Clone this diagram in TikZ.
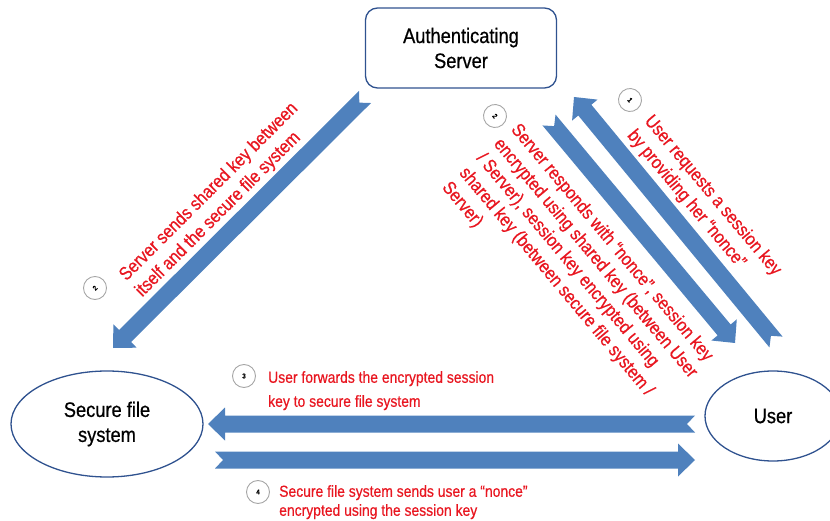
\documentclass[tikz,border=0pt]{standalone}
\usepackage{fontspec}
\setmainfont{Liberation Sans}[FakeStretch=0.87,FakeBold=0.6]
\usetikzlibrary{shapes,positioning,calc}
\definecolor{arrowblue}{RGB}{79,129,189}
\definecolor{edgeblue}{RGB}{47,82,143}
\definecolor{notered}{RGB}{232,22,32}
\newcommand{\blockarrow}[2]{%
  \path ($(#2)!17pt!(#1)$) coordinate (hb) ($(#1)!8pt!(#2)$) coordinate (nt);
  \fill[arrowblue] ($(#1)!8.5pt!90:(#2)$) -- ($(hb)!8.5pt!-90:(#1)$) -- ($(hb)!16.5pt!-90:(#1)$) -- (#2)
    -- ($(hb)!16.5pt!90:(#1)$) -- ($(hb)!8.5pt!90:(#1)$) -- ($(#1)!8.5pt!-90:(#2)$) -- (nt) -- cycle;
}

\begin{document}
\begin{tikzpicture}[x=1pt,y=1pt,
  party/.style={ellipse,draw=edgeblue,line width=1.3pt,align=center,font=\fontsize{21}{25}\selectfont},
  note/.style={text=notered,align=left,inner sep=0pt,font=\fontsize{18.5}{22.5}\selectfont},
  stepno/.style={circle,draw=gray!70,line width=0.9pt,minimum size=23pt,inner sep=0pt,font=\fontsize{7}{7}\selectfont\bfseries}]
\useasboundingbox (0,0) rectangle (830,520);
\node[draw=edgeblue,line width=1.3pt,rounded corners=12pt,minimum width=191pt,minimum height=80pt,align=center,font=\fontsize{21}{25}\selectfont] (AS) at (461,472) {Authenticating\\Server};
\node[party,minimum width=192pt,minimum height=106pt] (SFS) at (107,96) {Secure file\\system};
\node[party,minimum width=136pt,minimum height=90pt] (U) at (773,104) {User};
\coordinate (s2f-t) at (365,423);
\coordinate (s2f-h) at (113,172);
\coordinate (u2s-t) at (776,178);
\coordinate (u2s-h) at (574,423);
\coordinate (s2u-t) at (549,400);
\coordinate (s2u-h) at (735,177);
\coordinate (u2f-t) at (695,96);
\coordinate (u2f-h) at (208,96);
\coordinate (f2u-t) at (215,60);
\coordinate (f2u-h) at (695,60);
\blockarrow{s2f-t}{s2f-h}
\blockarrow{u2s-t}{u2s-h}
\blockarrow{s2u-t}{s2u-h}
\blockarrow{u2f-t}{u2f-h}
\blockarrow{f2u-t}{f2u-h}
\node[stepno,rotate=45] (n2a) at (95,232) {2};
\node[note,rotate=45] (l2a) at (217,320) {Server sends shared key between\\itself and the secure file system};
\node[stepno,rotate=-50] (n1) at (630,420) {1};
\node[note,rotate=-50] (l1) at (704,317) {User requests a session key\\by providing her “nonce”};
\node[stepno,rotate=-50] (n2b) at (495,404) {2};
\node[note,rotate=-50] (l2b) at (578,247) {Server responds with “nonce”, session key\\encrypted using shared key (between User\\/ Server), session key encrypted using\\shared key (between secure file system /\\Server)};
\node[stepno] (n3) at (244,144) {3};
\node[note,anchor=north west,font=\fontsize{16}{24}\selectfont] (l3) at (268,149) {User forwards the encrypted session\\key to secure file system};
\node[stepno] (n4) at (258,28) {4};
\node[note,anchor=north west,font=\fontsize{16}{19}\selectfont] (l4) at (279,35) {Secure file system sends user a “nonce”\\encrypted using the session key};
\end{tikzpicture}
\end{document}
